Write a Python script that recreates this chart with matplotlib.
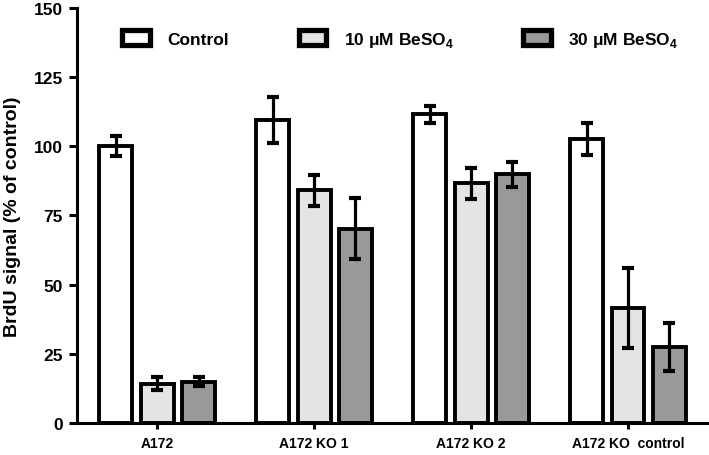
import matplotlib
matplotlib.use("Agg")
import matplotlib.pyplot as plt
from matplotlib.patches import Rectangle
import numpy as np

plt.rcParams["font.family"] = ["Liberation Sans", "DejaVu Sans"]
plt.rcParams["font.weight"] = "bold"
plt.rcParams["mathtext.fontset"] = "custom"
plt.rcParams["mathtext.rm"] = "Liberation Sans:bold"
plt.rcParams["mathtext.bf"] = "Liberation Sans:bold"

GROUPS = ["A172", "A172 KO 1", "A172 KO 2", "A172 KO  control"]
SERIES = ["Control", "10 \u03bcM BeSO$_4$", "30 \u03bcM BeSO$_4$"]
MEANS = {
    "Control": [100.0, 109.4, 111.5, 102.6],
    "10 \u03bcM BeSO$_4$": [14.2, 84.1, 86.6, 41.6],
    "30 \u03bcM BeSO$_4$": [15.0, 70.2, 89.9, 27.6],
}
ERRORS = {
    "Control": [3.7, 8.3, 3.0, 5.7],
    "10 \u03bcM BeSO$_4$": [2.3, 5.6, 5.6, 14.5],
    "30 \u03bcM BeSO$_4$": [1.6, 11.0, 4.5, 8.7],
}
COLORS = ["#ffffff", "#e4e4e4", "#999999"]

fig = plt.figure(figsize=(7.09, 4.56), dpi=100)
ax = fig.add_axes([0.1086, 0.070, 0.8914, 0.911])

x = np.arange(len(GROUPS))
step = 0.264
width = 0.21
lw = 2.8

for i, name in enumerate(SERIES):
    pos = x + (i - 1) * step
    ax.bar(pos, MEANS[name], width=width, color=COLORS[i], edgecolor="black",
           linewidth=lw, zorder=2)
    ax.errorbar(pos, MEANS[name], yerr=ERRORS[name], fmt="none", ecolor="black",
                elinewidth=2.3, capsize=4.2, capthick=3.0, zorder=3)

ax.set_xlim(-0.51, 3.516)
ax.set_ylim(0, 150)
ax.set_yticks(range(0, 151, 25))
ax.set_xticks(x)
ax.set_xticklabels(GROUPS, fontsize=10, fontweight="bold")
ax.tick_params(axis="y", labelsize=12.5, width=2.2, length=6, pad=4)
ax.tick_params(axis="x", width=2.2, length=4, pad=5)
for lab in ax.get_yticklabels():
    lab.set_fontweight("bold")
ax.set_ylabel("BrdU signal (% of control)", fontsize=14, fontweight="bold", labelpad=9)

for side in ["top", "right"]:
    ax.spines[side].set_visible(False)
for side in ["left", "bottom"]:
    ax.spines[side].set_linewidth(2.2)

handles = [Rectangle((0, 0), 1, 1, facecolor=c, edgecolor="black", linewidth=3.8)
           for c in COLORS]
ax.legend(handles, SERIES, ncol=3, frameon=False, loc="upper left",
          bbox_to_anchor=(0.047, 0.985), prop={"size": 12.5, "weight": "bold"},
          handlelength=1.6, handleheight=1.0, handletextpad=1.0, columnspacing=4.0)

fig.savefig("out.png", dpi=100)
